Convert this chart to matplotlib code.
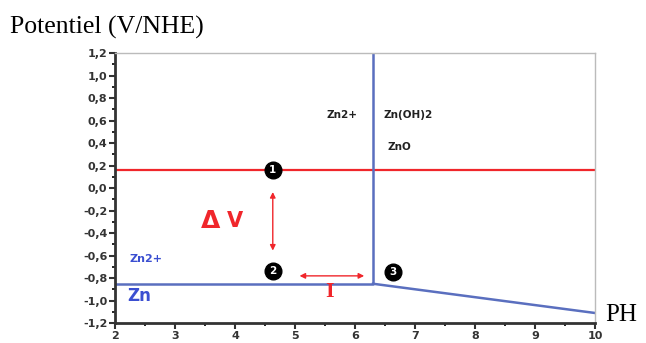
import numpy as np
import matplotlib
matplotlib.use('Agg')
import matplotlib.pyplot as plt
from matplotlib.ticker import MultipleLocator, FuncFormatter

red_ph = [2.0, 10.0]
red_e = [0.16, 0.16]
zn_ph = [2.0, 6.3, 6.3]
zn_e = [-0.85, -0.85, 1.2]
slope_ph = [6.3, 10.0]
slope_e = [-0.85, -1.11]
pts_ph = [4.63, 4.63, 6.63]
pts_e = [0.16, -0.74, -0.75]
pts_lbl = ["1", "2", "3"]

RED = "#f0262b"
BLUE = "#5a6fbf"

fig = plt.figure(figsize=(6.46, 3.43), dpi=100)
ax = fig.add_axes([0.178, 0.058, 0.743, 0.787])

ax.plot(red_ph, red_e, color=RED, lw=1.6, zorder=2)
ax.plot(zn_ph, zn_e, color=BLUE, lw=1.8, zorder=2)
ax.plot(slope_ph, slope_e, color=BLUE, lw=1.8, zorder=2)

# points numérotés
ax.plot(pts_ph, pts_e, 'o', color='black', ms=12, zorder=4, clip_on=False)
for x, y, s in zip(pts_ph, pts_e, pts_lbl):
    ax.text(x, y, s, color='white', fontsize=7.5, fontweight='bold',
            ha='center', va='center', zorder=5)

# flèches
ax.annotate("", xy=(4.63, -0.01), xytext=(4.63, -0.58),
            arrowprops=dict(arrowstyle='<|-|>', color=RED, lw=1, mutation_scale=8))
ax.annotate("", xy=(5.03, -0.78), xytext=(6.2, -0.78),
            arrowprops=dict(arrowstyle='<|-|>', color=RED, lw=1, mutation_scale=8))

# textes
ax.text(3.6, -0.29, "\u0394", color=RED, fontsize=18, fontweight='bold',
        ha='center', va='center')
ax.text(4.0, -0.29, "V", color=RED, fontsize=15, fontweight='bold', ha='center', va='center')
ax.text(5.58, -0.92, "I", color=RED, fontsize=16, fontweight='bold',
        family='Liberation Serif', ha='center', va='center')
ax.text(2.25, -0.63, "Zn2+", color="#3b4fd1", fontsize=8, fontweight='bold', va='center')
ax.text(2.2, -0.96, "Zn", color="#3b4fd1", fontsize=12, fontweight='bold', va='center')
ax.text(5.53, 0.65, "Zn2+", color="#222222", fontsize=7.5, fontweight='bold', va='center')
ax.text(6.47, 0.65, "Zn(OH)2", color="#222222", fontsize=7.5, fontweight='bold', va='center')
ax.text(6.55, 0.37, "ZnO", color="#222222", fontsize=7.5, fontweight='bold', va='center')

ax.set_xlim(2, 10)
ax.set_ylim(-1.2, 1.2)
ax.xaxis.set_major_locator(MultipleLocator(1))
ax.xaxis.set_minor_locator(MultipleLocator(0.5))
ax.yaxis.set_major_locator(MultipleLocator(0.2))
ax.yaxis.set_minor_locator(MultipleLocator(0.1))
ax.yaxis.set_major_formatter(FuncFormatter(lambda v, p: f"{v:.1f}".replace('.', ',').replace('-0,0', '0,0')))
ax.tick_params(axis='both', which='major', direction='out', length=4, width=1.5,
               labelsize=8, colors='#333333', pad=1.5)
ax.tick_params(axis='both', which='minor', direction='out', length=2.5, width=1.2)
for lab in ax.get_xticklabels() + ax.get_yticklabels():
    lab.set_fontweight('bold')

ax.spines['left'].set_linewidth(2)
ax.spines['bottom'].set_linewidth(2)
ax.spines['left'].set_color('#333333')
ax.spines['bottom'].set_color('#333333')
ax.spines['top'].set_color('#bbbbbb')
ax.spines['right'].set_color('#bbbbbb')
ax.spines['top'].set_linewidth(1)
ax.spines['right'].set_linewidth(1)

fig.text(0.015, 0.92, "Potentiel (V/NHE)", fontsize=18.5, family='Liberation Serif',
         ha='left', va='center')
fig.text(0.937, 0.083, "PH", fontsize=18, family='Liberation Serif',
         ha='left', va='center')

plt.savefig("out.png", dpi=100)
plt.close()
